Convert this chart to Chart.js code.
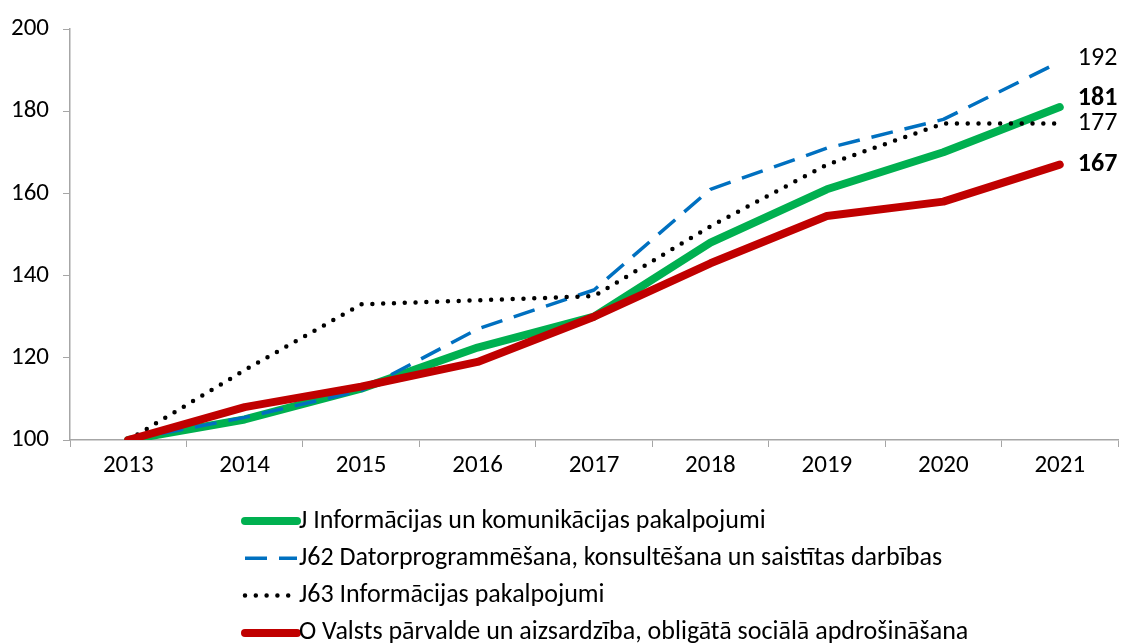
<!DOCTYPE html>
<html>
<head>
<meta charset="utf-8">
<script src="https://cdn.jsdelivr.net/npm/chart.js@4"></script>
<style>
  html, body { margin: 0; padding: 0; background: #fff; }
  #wrap { width: 1121px; height: 644px; position: relative; }
</style>
</head>
<body>
<div id="wrap"><canvas id="chart"></canvas></div>
<script>
// Chart data
const years = ['2013', '2014', '2015', '2016', '2017', '2018', '2019', '2020', '2021'];
const seriesJ = [100, 105, 112.5, 122.5, 130, 148, 161, 170, 181];
const seriesJ62 = [100, 105.5, 112, 127, 136.5, 161, 171, 178, 192];
const seriesJ63 = [100, 117, 133, 134, 135, 152, 167, 177, 177];
const seriesO = [100, 108, 113, 119, 130, 143, 154.5, 158, 167];
const endLabels = ['181', '192', '177', '167'];
const yTicks = [100, 120, 140, 160, 180, 200];

const FONT = "Carlito, Lato, 'Open Sans', sans-serif";

/**
 * Value labels after the last point of each line
 */
const endLabelPlugin = {
    id: 'endLabels',
    afterDatasetsDraw(chart, args, opts) {
        const ctx = chart.ctx;
        ctx.save();
        chart.data.datasets.forEach((ds, i) => {
            const meta = chart.getDatasetMeta(i);
            const pt = meta.data[meta.data.length - 1];
            if (!pt) return;
            ctx.font = (opts.bold[i] ? 'bold ' : '') + '26px ' + FONT;
            ctx.fillStyle = '#000';
            ctx.textBaseline = 'middle';
            ctx.textAlign = 'left';
            ctx.fillText(endLabels[i], pt.x + 18, pt.y + opts.shift[i]);
        });
        ctx.restore();
    }
};

/**
 * Vertical legend under the chart
 */
const listLegendPlugin = {
    id: 'listLegend',
    afterDraw(chart, args, opts) {
        const ctx = chart.ctx;
        ctx.save();
        chart.data.datasets.forEach((ds, i) => {
            const y = opts.top + i * opts.rowHeight;
            ctx.beginPath();
            ctx.strokeStyle = ds.borderColor;
            ctx.lineWidth = ds.borderWidth;
            ctx.lineCap = ds.borderCapStyle || 'butt';
            ctx.setLineDash(ds.borderDash || []);
            ctx.moveTo(opts.left, y);
            ctx.lineTo(opts.left + opts.sample, y);
            ctx.stroke();
            ctx.setLineDash([]);
            ctx.font = '26px ' + FONT;
            ctx.fillStyle = '#000';
            ctx.textBaseline = 'middle';
            ctx.fillText(ds.label, opts.left + opts.sample + 2, y);
        });
        ctx.restore();
    }
};

new Chart(document.getElementById('chart'), {
    type: 'line',
    data: {
        labels: years,
        datasets: [
            {
                label: 'J Informācijas un komunikācijas pakalpojumi',
                data: seriesJ,
                borderColor: '#00b050',
                borderWidth: 8,
                borderCapStyle: 'round',
                order: 3
            },
            {
                label: 'J62 Datorprogrammēšana, konsultēšana un saistītas darbības',
                data: seriesJ62,
                borderColor: '#0070c0',
                borderWidth: 3.5,
                borderDash: [22, 12],
                order: 2
            },
            {
                label: 'J63 Informācijas pakalpojumi',
                data: seriesJ63,
                borderColor: '#000000',
                borderWidth: 4.5,
                borderDash: [0, 10.8],
                borderCapStyle: 'round',
                order: 1
            },
            {
                label: 'O Valsts pārvalde un aizsardzība, obligātā sociālā apdrošināšana',
                data: seriesO,
                borderColor: '#c00000',
                borderWidth: 8,
                borderCapStyle: 'round',
                order: 0
            }
        ]
    },
    options: {
        responsive: true,
        maintainAspectRatio: false,
        animation: false,
        elements: {
            point: { radius: 0 },
            line: { tension: 0, borderJoinStyle: 'round' }
        },
        layout: {
            padding: { top: 25, right: 3, left: 0, bottom: 0 }
        },
        scales: {
            x: {
                offset: true,
                afterFit(scale) { scale.height = 204; },
                grid: {
                    offset: true,
                    drawOnChartArea: false,
                    drawTicks: true,
                    tickLength: 7,
                    color: '#a6a6a6'
                },
                border: { color: '#a6a6a6', width: 1.5 },
                ticks: {
                    color: '#000',
                    font: { family: FONT, size: 25 },
                    padding: 4,
                    maxRotation: 0
                }
            },
            y: {
                min: 100,
                max: 200,
                afterFit(scale) { scale.width = 70; },
                afterBuildTicks(scale) {
                    scale.ticks = yTicks.map(v => ({ value: v }));
                },
                grid: {
                    drawOnChartArea: false,
                    drawTicks: true,
                    tickLength: 7,
                    color: '#a6a6a6'
                },
                border: { color: '#a6a6a6', width: 1.5 },
                ticks: {
                    color: '#000',
                    font: { family: FONT, size: 25 },
                    padding: 14
                }
            }
        },
        plugins: {
            legend: { display: false },
            tooltip: { enabled: false },
            endLabels: {
                bold: [true, false, false, true],
                shift: [-9, -3, 0, 0]
            },
            listLegend: {
                left: 245,
                top: 521,
                rowHeight: 37.3,
                sample: 52
            }
        }
    },
    plugins: [endLabelPlugin, listLegendPlugin]
});
</script>
</body>
</html>
